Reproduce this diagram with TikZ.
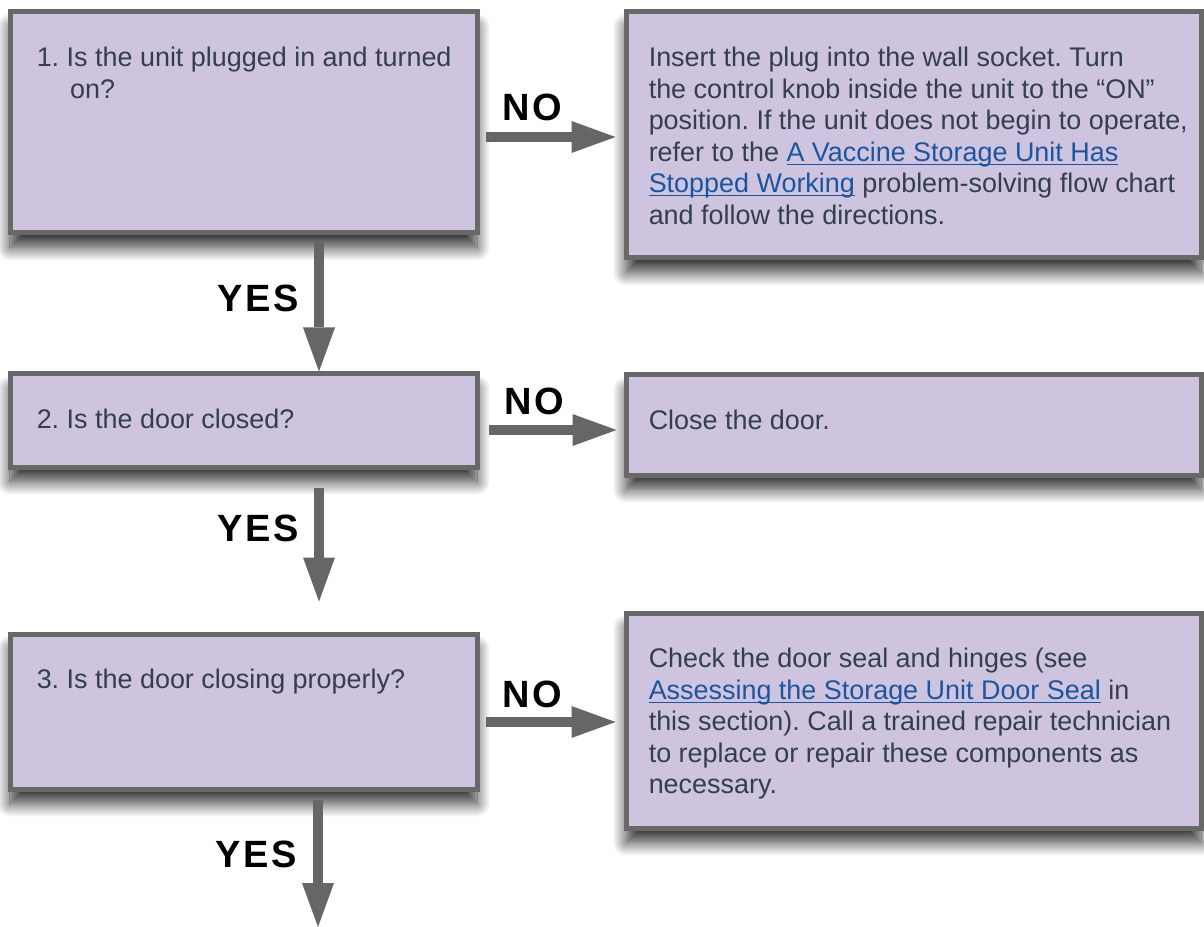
\documentclass[tikz,border=0pt]{standalone}
\usepackage{fontspec}
\setmainfont{Liberation Sans}
\usetikzlibrary{arrows.meta,calc,shadows.blur}
\frenchspacing

\definecolor{boxfill}{HTML}{CFC4DF}
\definecolor{boxline}{HTML}{686868}
\definecolor{flowgray}{HTML}{656665}
\definecolor{bodytext}{HTML}{323E52}
\definecolor{linkblue}{HTML}{1B55A0}

% underlined cross-reference
\newcommand\lnk[1]{{\color{linkblue}\setbox0=\hbox{#1}\rlap{\rule[-2.9pt]{\wd0}{1.1pt}}\box0}}
% fixes the height of the first text line
\newcommand\firststrut{\rule{0pt}{20pt}}

\def\px{0.75pt}

\begin{document}
\begin{tikzpicture}[x=0.75pt,y=-0.75pt,
  panel/.style={draw=boxline, line width=5*\px, fill=boxfill, inner sep=0pt,
    blur shadow={shadow xshift=0pt, shadow yshift=-11pt, shadow blur radius=10pt,
      shadow opacity=80, shadow blur steps=20}},
  qbox/.style={panel, minimum width=467*\px},
  abox/.style={panel, minimum width=575*\px},
  body/.style={anchor=north west, inner sep=0pt, align=left, text=bodytext,
    font=\fontsize{20.2pt}{23.6pt}\selectfont},
  lbl/.style={inner sep=0pt, text=black, font=\fontsize{28.5pt}{30pt}\selectfont\bfseries},
  flow/.style={draw=flowgray, line width=10*\px,
    -{Triangle[width=24pt,length=33pt,line width=0pt]}}
]
\useasboundingbox (0,0) rectangle (1204,927);

% question boxes (left column)
\node[qbox, minimum height=221*\px] (q1) at (243.5,122.5) {};
\node[qbox, minimum height=93*\px]  (q2) at (243.5,420.5) {};
\node[qbox, minimum height=155*\px] (q3) at (243.5,711.5) {};

% action boxes (right column)
\node[abox, minimum height=246*\px] (a1) at (913.5,135) {};
\node[abox, minimum height=100*\px] (a2) at (913.5,425) {};
\node[abox, minimum height=215*\px] (a3) at (913.5,720.5) {};

% question texts
\node[body] (q1t) at ($(q1.north west)+(29,30.33)$)
  {\firststrut 1. Is the unit plugged in and turned\\\hspace*{25pt}on?};
\node[body] (q2t) at ($(q2.north west)+(29,30.33)$)
  {\firststrut 2. Is the door closed?};
\node[body] (q3t) at ($(q3.north west)+(29,30.33)$)
  {\firststrut 3. Is the door closing properly?};

% action texts
\node[body] (a1t) at ($(a1.north west)+(25,30.33)$)
  {\firststrut Insert the plug into the wall socket. Turn\\
   the control knob inside the unit to the “ON”\\
   position. If the unit does not begin to operate,\\
   refer to the \lnk{A Vaccine Storage Unit Has}\\
   \lnk{Stopped Working} problem-solving flow chart\\
   and follow the directions.};
\node[body] (a2t) at ($(a2.north west)+(25,30.33)$)
  {\firststrut Close the door.};
\node[body] (a3t) at ($(a3.north west)+(25,30.33)$)
  {\firststrut Check the door seal and hinges (see\\
   \lnk{Assessing the Storage Unit Door Seal} in\\
   this section). Call a trained repair technician\\
   to replace or repair these components as\\
   necessary.};

% NO branches
\draw[flow] ($(q1.east)+(6,14.5)$) -- ($(a1.west)+(-8,2)$);
\draw[flow] ($(q2.east)+(9,9.5)$)  -- ($(a2.west)+(-7,5)$);
\draw[flow] ($(q3.east)+(6,10.5)$) -- ($(a3.west)+(-8,1.5)$);

% YES branches
\coordinate (next) at (318,927);
\draw[flow] ($(q1.south)+(75.5,7)$)  -- ($(q2.north)+(75.5,0)$);
\draw[flow] ($(q2.south)+(75.5,18)$) -- ($(q3.north)+(75.5,-30)$);
\draw[flow] ($(q3.south)+(74.5,8)$)  -- (next);

% branch labels
\node[lbl] (no1) at (532.5,107.5) {N\kern2pt O};
\node[lbl] (no2) at (534.5,401.5) {N\kern2pt O};
\node[lbl] (no3) at (532,694) {N\kern2pt O};
\node[lbl] (yes1) at (258.5,298.5) {Y\kern2pt E\kern2pt S};
\node[lbl] (yes2) at (258.5,528) {Y\kern2pt E\kern2pt S};
\node[lbl] (yes3) at (256,854.5) {Y\kern2pt E\kern2pt S};
\end{tikzpicture}
\end{document}
